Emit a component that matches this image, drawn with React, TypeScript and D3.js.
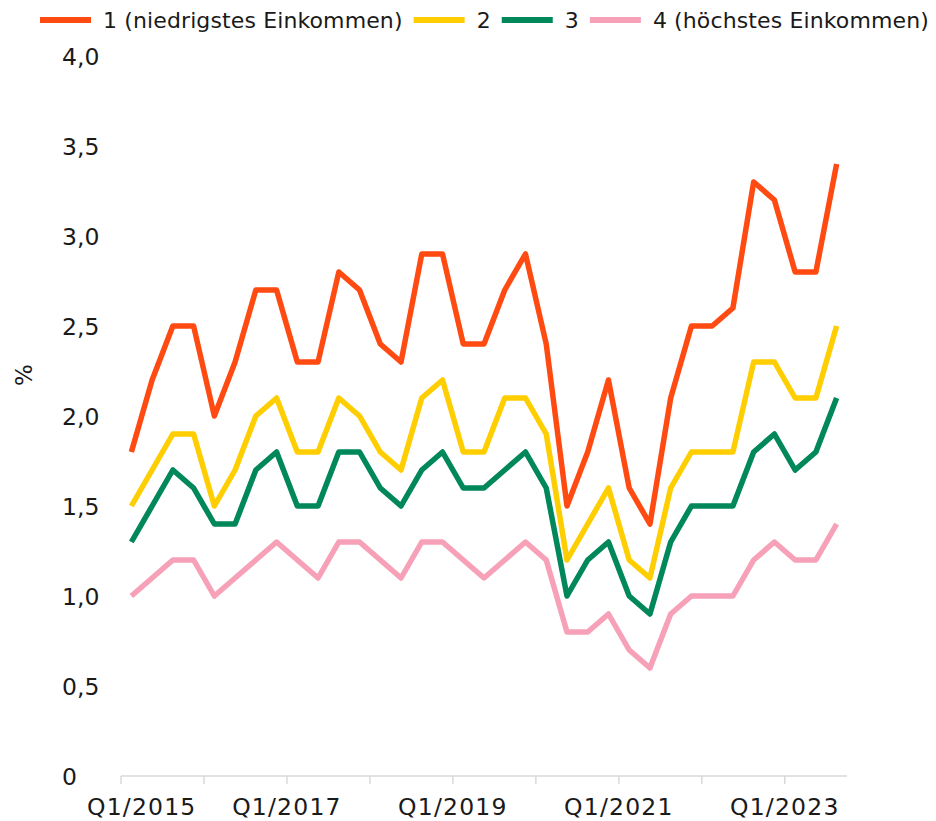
import { useEffect, useRef } from 'react';
import * as d3 from 'd3';

// quarters Q1/2015 .. Q3/2023
const years = [2015, 2016, 2017, 2018, 2019, 2020, 2021, 2022, 2023];
const quarters = years.flatMap(y => [1, 2, 3, 4].map(q => `Q${q}/${y}`)).slice(0, 35);

const q1Lowest = [1.8, 2.2, 2.5, 2.5, 2.0, 2.3, 2.7, 2.7, 2.3, 2.3, 2.8, 2.7, 2.4, 2.3, 2.9, 2.9, 2.4, 2.4, 2.7, 2.9, 2.4, 1.5, 1.8, 2.2, 1.6, 1.4, 2.1, 2.5, 2.5, 2.6, 3.3, 3.2, 2.8, 2.8, 3.4];
const q2 = [1.5, 1.7, 1.9, 1.9, 1.5, 1.7, 2.0, 2.1, 1.8, 1.8, 2.1, 2.0, 1.8, 1.7, 2.1, 2.2, 1.8, 1.8, 2.1, 2.1, 1.9, 1.2, 1.4, 1.6, 1.2, 1.1, 1.6, 1.8, 1.8, 1.8, 2.3, 2.3, 2.1, 2.1, 2.5];
const q3 = [1.3, 1.5, 1.7, 1.6, 1.4, 1.4, 1.7, 1.8, 1.5, 1.5, 1.8, 1.8, 1.6, 1.5, 1.7, 1.8, 1.6, 1.6, 1.7, 1.8, 1.6, 1.0, 1.2, 1.3, 1.0, 0.9, 1.3, 1.5, 1.5, 1.5, 1.8, 1.9, 1.7, 1.8, 2.1];
const q4Highest = [1.0, 1.1, 1.2, 1.2, 1.0, 1.1, 1.2, 1.3, 1.2, 1.1, 1.3, 1.3, 1.2, 1.1, 1.3, 1.3, 1.2, 1.1, 1.2, 1.3, 1.2, 0.8, 0.8, 0.9, 0.7, 0.6, 0.9, 1.0, 1.0, 1.0, 1.2, 1.3, 1.2, 1.2, 1.4];

const seriesNames = ['1 (niedrigstes Einkommen)', '2', '3', '4 (höchstes Einkommen)'];
const seriesValues = [q1Lowest, q2, q3, q4Highest];
const seriesColors = ['#FF4A12', '#FFCE00', '#00875A', '#F7A1B8'];

const yTicks = [0, 0.5, 1, 1.5, 2, 2.5, 3, 3.5, 4];
const xLabels = ['Q1/2015', 'Q1/2017', 'Q1/2019', 'Q1/2021', 'Q1/2023'];

const FONT = '"DejaVu Sans", sans-serif';

export default function App() {
    const svgRef = useRef<SVGSVGElement | null>(null);

    useEffect(() => {
        if (!svgRef.current) return;
        const svg = d3.select(svgRef.current);
        svg.selectAll('*').remove();

        const x = d3.scaleBand<string>().domain(quarters).range([121, 847]).padding(0);
        const y = d3.scaleLinear().domain([0, 4]).range([776, 56]);
        const cx = (q: string) => (x(q) as number) + x.bandwidth() / 2;

        // x axis line + ticks (every 4 quarters, at band edges)
        svg.append('line')
            .attr('x1', 121).attr('x2', 847)
            .attr('y1', y(0)).attr('y2', y(0))
            .attr('stroke', '#d9d9d9').attr('stroke-width', 1.5);

        svg.append('g')
            .selectAll('line')
            .data(quarters.filter((q, i) => i % 4 === 0))
            .join('line')
            .attr('x1', d => x(d) as number).attr('x2', d => x(d) as number)
            .attr('y1', y(0)).attr('y2', y(0) + 8)
            .attr('stroke', '#d9d9d9').attr('stroke-width', 1.5);

        // x labels
        svg.append('g')
            .selectAll('text')
            .data(xLabels)
            .join('text')
            .attr('x', (d, i) => (x(d) as number) + (i === 0 ? x.bandwidth() : 0))
            .attr('y', 815)
            .attr('text-anchor', 'middle')
            .attr('font-family', FONT)
            .attr('font-size', 23.5)
            .attr('letter-spacing', 1.2)
            .attr('fill', '#1a1a1a')
            .text(d => d);

        // y labels
        svg.append('g')
            .selectAll('text')
            .data(yTicks)
            .join('text')
            .attr('x', 62)
            .attr('y', d => y(d) + 9)
            .attr('font-family', FONT)
            .attr('font-size', 23.5)
            .attr('fill', '#1a1a1a')
            .text(d => (d === 0 ? '0' : d3.format('.1f')(d).replace('.', ',')));

        svg.append('text')
            .attr('transform', 'translate(32,375) rotate(-90)')
            .attr('text-anchor', 'middle')
            .attr('font-family', FONT)
            .attr('font-size', 23)
            .attr('fill', '#1a1a1a')
            .text('%');

        // lines
        const line = d3.line<number>()
            .x((d, i) => cx(quarters[i]))
            .y(d => y(d));

        svg.append('g')
            .selectAll('path')
            .data(seriesValues)
            .join('path')
            .attr('d', d => line(d))
            .attr('fill', 'none')
            .attr('stroke', (d, i) => seriesColors[i])
            .attr('stroke-width', 5.5)
            .attr('stroke-linejoin', 'round')
            .attr('stroke-linecap', 'butt');

        // legend, laid out left to right
        const legend = svg.append('g');
        let lx = 40;
        seriesNames.forEach((name, i) => {
            legend.append('line')
                .attr('x1', lx).attr('x2', lx + 51)
                .attr('y1', 20).attr('y2', 20)
                .attr('stroke', seriesColors[i]).attr('stroke-width', 6);
            const t = legend.append('text')
                .attr('x', lx + 63)
                .attr('y', 28)
                .attr('font-family', FONT)
                .attr('font-size', 22)
                .attr('letter-spacing', 0.12)
                .attr('fill', '#1a1a1a')
                .text(name);
            const w = (t.node() as SVGTextElement).getComputedTextLength();
            lx = lx + 63 + w + 11;
        });
    }, []);

    return (
        <svg
            ref={svgRef}
            width={936}
            height={821}
            style={{ position: 'absolute', left: 0, top: 0, background: '#fff' }}
        />
    );
}
